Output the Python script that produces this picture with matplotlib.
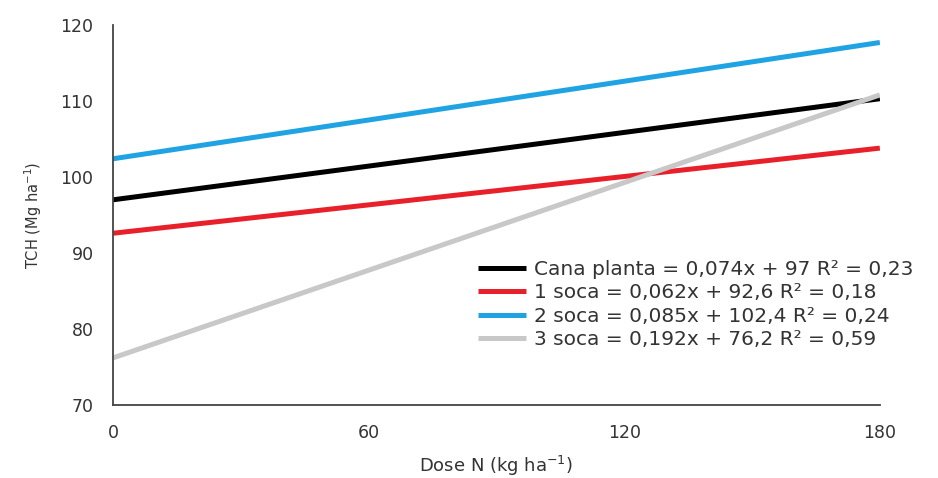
import matplotlib
matplotlib.use("Agg")
import matplotlib.pyplot as plt

dose = [0, 180]
cana_planta = [97.0, 110.3]
soca1 = [92.6, 103.8]
soca2 = [102.4, 117.7]
soca3 = [76.2, 110.8]
labels = [
    "Cana planta = 0,074x + 97 R² = 0,23",
    "1 soca = 0,062x + 92,6 R² = 0,18",
    "2 soca = 0,085x + 102,4 R² = 0,24",
    "3 soca = 0,192x + 76,2 R² = 0,59",
]
colors = ["#000000", "#e8202a", "#1fa3e3", "#c8c8c8"]
xticks = [0, 60, 120, 180]
yticks = [70, 80, 90, 100, 110, 120]

plt.rcParams['font.family'] = ['DejaVu Sans']
fig = plt.figure(figsize=(9.38, 4.78), dpi=100)
ax = fig.add_axes([0.1205, 0.1527, 0.8175, 0.795])

series = [cana_planta, soca1, soca2, soca3]
for s, c, l in zip(series, colors, labels):
    ax.plot(dose, s, color=c, lw=3.6, label=l, solid_capstyle='butt')

ax.set_xlim(0, 180)
ax.set_ylim(70, 120)
ax.set_xticks(xticks)
ax.set_yticks(yticks)
ax.tick_params(length=0, labelsize=12.5, colors="#333333")
ax.tick_params(axis='x', pad=14)
ax.tick_params(axis='y', pad=14)
for sp in ['top', 'right']:
    ax.spines[sp].set_visible(False)
for sp in ['left', 'bottom']:
    ax.spines[sp].set_color("#444444")
    ax.spines[sp].set_linewidth(1.3)

ax.set_ylabel("TCH (Mg ha$^{-1}$)", fontsize=10.5, color="#333333", labelpad=12)
ax.set_xlabel("Dose N (kg ha$^{-1}$)", fontsize=13, color="#333333", labelpad=8)

leg = ax.legend(loc='upper left', bbox_to_anchor=(478/938, 1 - 260/478),
                bbox_transform=fig.transFigure, frameon=False, fontsize=14.5,
                handlelength=2.4, handletextpad=0.4, labelspacing=0.22,
                borderaxespad=0, borderpad=0)
for t in leg.get_texts():
    t.set_color("#333333")

fig.savefig("out.png", dpi=100)
